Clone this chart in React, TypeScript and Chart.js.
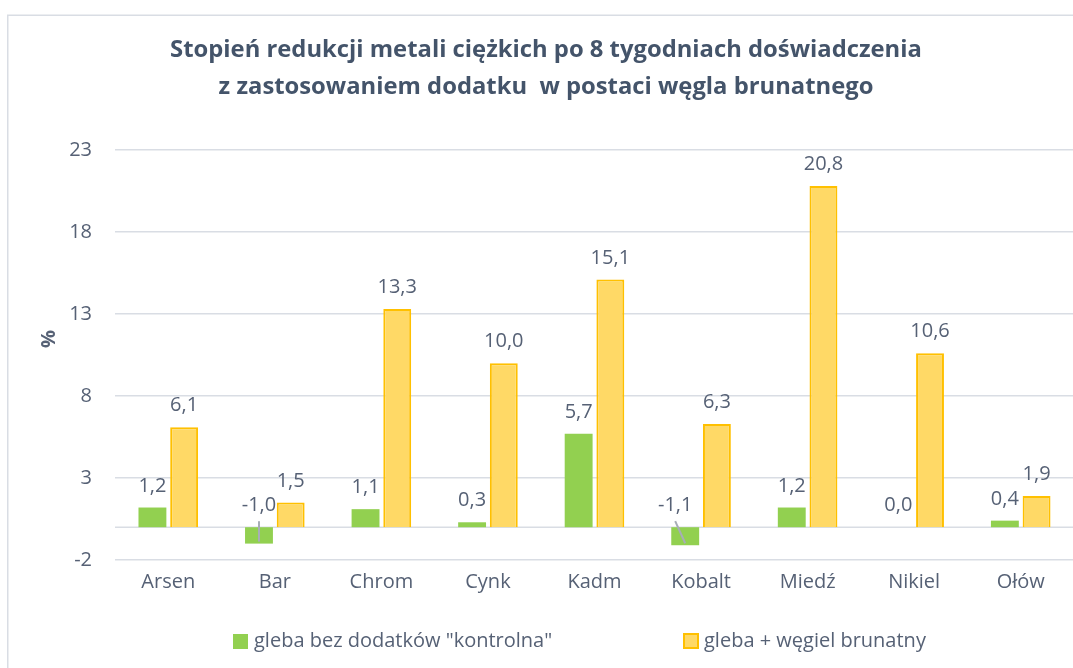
import React, { useEffect, useRef } from "react";
import { Chart, registerables } from "chart.js";

Chart.register(...registerables);

// Heavy-metal reduction after 8 weeks, in percent
const categories = ["Arsen", "Bar", "Chrom", "Cynk", "Kadm", "Kobalt", "Miedź", "Nikiel", "Ołów"];
const controlValues = [1.2, -1.0, 1.1, 0.3, 5.7, -1.1, 1.2, 0.0, 0.4];
const ligniteValues = [6.1, 1.5, 13.3, 10.0, 15.1, 6.3, 20.8, 10.6, 1.9];
const seriesNames = ['gleba bez dodatków "kontrolna"', "gleba + węgiel brunatny"];
const titleLines = [
  "Stopień redukcji metali ciężkich po 8 tygodniach doświadczenia",
  "z zastosowaniem dodatku  w postaci węgla brunatnego",
];
const yAxisTitle = "%";
const yMin = -2;
const yMax = 23;
const yStep = 5;

const FONT = '"Open Sans", "DejaVu Sans", sans-serif';
const TEXT_COLOR = "#566175";
const TITLE_COLOR = "#44546a";
const GRID_COLOR = "#d9dde4";
const GREEN = "#92d050";
const YELLOW_FILL = "#ffd966";
const YELLOW_EDGE = "#ffc000";
const LEADER_COLOR = "#a7adb7";

const fmt = (v: number) => v.toFixed(1).replace(".", ",");

const decorPlugin = {
  id: "decor",
  beforeDraw(chart: any) {
    const ctx = chart.ctx;
    ctx.save();
    ctx.fillStyle = "#ffffff";
    ctx.fillRect(0, 0, chart.width, chart.height);
    // outer frame
    ctx.strokeStyle = GRID_COLOR;
    ctx.lineWidth = 1.5;
    ctx.strokeRect(7.75, 15.25, chart.width + 40, chart.height + 40);
    // title
    ctx.fillStyle = TITLE_COLOR;
    ctx.font = `bold 23.8px ${FONT}`;
    ctx.textAlign = "center";
    ctx.textBaseline = "alphabetic";
    ctx.fillText(titleLines[0], chart.width / 2, 57);
    ctx.fillText(titleLines[1], chart.width / 2, 94);
    // y axis title
    ctx.translate(49, 339);
    ctx.rotate(-Math.PI / 2);
    ctx.font = `bold 20px ${FONT}`;
    ctx.fillStyle = TEXT_COLOR;
    ctx.textBaseline = "middle";
    ctx.fillText(yAxisTitle, 0, 0);
    ctx.restore();
  },
  beforeDatasetsDraw(chart: any) {
    const ctx = chart.ctx;
    const y = chart.scales.y.getPixelForValue(0);
    const { left, right } = chart.chartArea;
    ctx.save();
    ctx.strokeStyle = GRID_COLOR;
    ctx.lineWidth = 1.5;
    ctx.beginPath();
    ctx.moveTo(left, y);
    ctx.lineTo(right, y);
    ctx.stroke();
    ctx.restore();
  },
  afterDatasetsDraw(chart: any, _args: any, opts: any) {
    const ctx = chart.ctx;
    const yScale = chart.scales.y;
    const zeroY = yScale.getPixelForValue(0);
    ctx.save();
    ctx.font = `20px ${FONT}`;
    ctx.fillStyle = TEXT_COLOR;
    ctx.textAlign = "center";
    ctx.textBaseline = "alphabetic";
    chart.data.datasets.forEach((ds: any, di: number) => {
      const meta = chart.getDatasetMeta(di);
      meta.data.forEach((bar: any, i: number) => {
        const v = ds.data[i] as number;
        const shift = (opts.shift && opts.shift[di] && opts.shift[di][i]) || 0;
        const top = v >= 0 ? bar.y : zeroY;
        const lx = bar.x + shift;
        const ly = top - 16;
        ctx.fillText(fmt(v), lx, ly);
        if (v < 0) {
          ctx.save();
          ctx.strokeStyle = LEADER_COLOR;
          ctx.lineWidth = 2;
          ctx.beginPath();
          ctx.moveTo(lx, ly + 10);
          ctx.lineTo(bar.x, bar.y - 2);
          ctx.stroke();
          ctx.restore();
        }
      });
    });
    ctx.restore();
  },
  afterDraw(chart: any) {
    const ctx = chart.ctx;
    ctx.save();
    const cy = 641;
    ctx.font = `20px ${FONT}`;
    ctx.fillStyle = TEXT_COLOR;
    ctx.textAlign = "left";
    ctx.textBaseline = "middle";
    // control series
    ctx.fillStyle = GREEN;
    ctx.fillRect(233, cy - 7, 15, 15);
    ctx.fillStyle = TEXT_COLOR;
    ctx.fillText(seriesNames[0], 254, cy);
    // lignite series
    ctx.fillStyle = YELLOW_FILL;
    ctx.fillRect(684, cy - 7, 14, 14);
    ctx.strokeStyle = YELLOW_EDGE;
    ctx.lineWidth = 2;
    ctx.strokeRect(684, cy - 7, 14, 14);
    ctx.fillStyle = TEXT_COLOR;
    ctx.fillText(seriesNames[1], 704, cy);
    ctx.restore();
  },
};

export default function App() {
  const canvasRef = useRef<HTMLCanvasElement | null>(null);

  useEffect(() => {
    if (!canvasRef.current) return;
    const chart = new Chart(canvasRef.current, {
      type: "bar",
      data: {
        labels: categories,
        datasets: [
          {
            label: seriesNames[0],
            data: controlValues,
            backgroundColor: GREEN,
            borderWidth: 0,
            categoryPercentage: 0.595,
            barPercentage: 0.88,
          },
          {
            label: seriesNames[1],
            data: ligniteValues,
            backgroundColor: YELLOW_FILL,
            borderColor: YELLOW_EDGE,
            borderWidth: 2,
            categoryPercentage: 0.595,
            barPercentage: 0.88,
          },
        ],
      },
      options: {
        animation: false,
        responsive: true,
        maintainAspectRatio: false,
        layout: { padding: { left: 0, right: 18, top: 150, bottom: 48 } },
        plugins: {
          legend: { display: false },
          title: { display: false },
          tooltip: { enabled: false },
          decor: { shift: { 0: { 5: -10 } } },
        } as any,
        scales: {
          x: {
            grid: { display: false, drawTicks: false },
            border: { display: false },
            ticks: {
              color: TEXT_COLOR,
              font: { family: FONT, size: 20 },
              padding: 10,
              maxRotation: 0,
              autoSkip: false,
            },
            afterFit(scale: any) {
              scale.height = 60;
            },
          },
          y: {
            min: yMin,
            max: yMax,
            grid: { color: GRID_COLOR, lineWidth: 1.5, drawTicks: false },
            border: { display: false },
            ticks: {
              stepSize: yStep,
              color: TEXT_COLOR,
              font: { family: FONT, size: 20 },
              padding: 23,
            },
            afterFit(scale: any) {
              scale.width = 115;
            },
          },
        },
      },
      plugins: [decorPlugin],
    });
    return () => chart.destroy();
  }, []);

  return (
    <div
      style={{
        position: "fixed",
        left: 0,
        top: 0,
        width: 1073,
        height: 668,
        overflow: "hidden",
        background: "#ffffff",
      }}
    >
      <div style={{ position: "absolute", left: 0, top: 0, width: 1092, height: 668 }}>
        <canvas ref={canvasRef} />
      </div>
    </div>
  );
}
